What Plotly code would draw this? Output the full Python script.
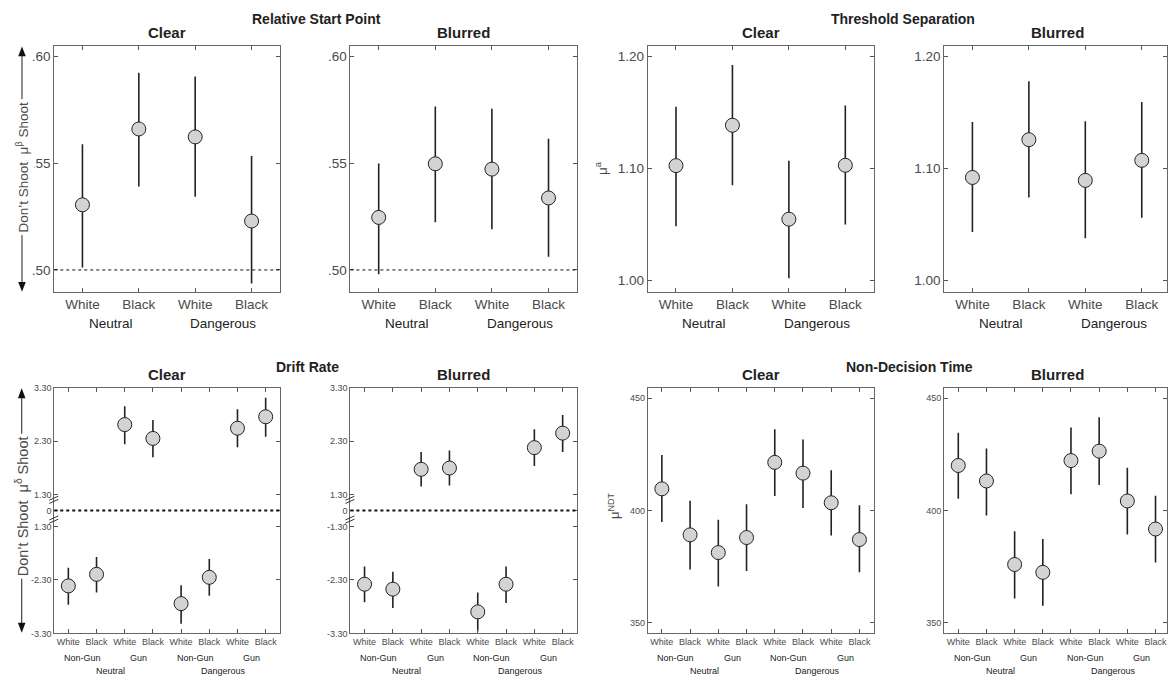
import plotly.graph_objects as go

W, H = 1168, 684
def px(x): return x / W
def py(y): return 1 - y / H

FONT = "Liberation Sans, Arial, sans-serif"
TICK_C = "#4a4a4a"
TXT_C = "#222222"

# ---------------- data ----------------
race4 = ["White", "Black", "White", "Black"]
context4 = ["Neutral", "Dangerous"]
race8 = ["White", "Black", "White", "Black", "White", "Black", "White", "Black"]
object8 = ["Non-Gun", "Gun", "Non-Gun", "Gun"]
context8 = ["Neutral", "Dangerous"]

start_clear_mean = [0.5305, 0.5660, 0.5623, 0.5229]
start_clear_low = [0.5011, 0.5391, 0.5343, 0.4937]
start_clear_high = [0.5588, 0.5923, 0.5906, 0.5534]
start_blur_mean = [0.5246, 0.5497, 0.5472, 0.5337]
start_blur_low = [0.4980, 0.5223, 0.5191, 0.5062]
start_blur_high = [0.5498, 0.5765, 0.5755, 0.5614]

thr_clear_mean = [1.1025, 1.1386, 1.0546, 1.1028]
thr_clear_low = [1.0482, 1.0849, 1.0018, 1.0499]
thr_clear_high = [1.1551, 1.1924, 1.1069, 1.1562]
thr_blur_mean = [1.0919, 1.1257, 1.0893, 1.1072]
thr_blur_low = [1.0432, 1.0740, 1.0376, 1.0558]
thr_blur_high = [1.1416, 1.1780, 1.1421, 1.1595]

drift_clear_mean = [-2.411, -2.195, 2.608, 2.349, -2.743, -2.251, 2.540, 2.755]
drift_clear_low = [-2.762, -2.534, 2.238, 1.998, -3.118, -2.595, 2.183, 2.380]
drift_clear_high = [-2.072, -1.869, 2.952, 2.694, -2.398, -1.906, 2.897, 3.112]
drift_blur_mean = [-2.380, -2.472, 1.771, 1.795, -2.897, -2.380, 2.177, 2.448]
drift_blur_low = [-2.718, -2.823, 1.451, 1.469, -3.260, -2.731, 1.832, 2.097]
drift_blur_high = [-2.048, -2.146, 2.097, 2.122, -2.534, -2.048, 2.522, 2.786]

ndt_clear_mean = [409.6, 389.1, 381.2, 387.9, 421.4, 416.6, 403.4, 387.0]
ndt_clear_low = [394.8, 373.7, 366.1, 373.0, 406.4, 401.1, 388.8, 372.4]
ndt_clear_high = [424.7, 404.3, 395.8, 402.7, 436.1, 431.6, 417.9, 402.3]
ndt_blur_mean = [420.0, 413.1, 375.9, 372.4, 422.2, 426.4, 404.2, 391.7]
ndt_blur_low = [405.2, 397.7, 360.7, 357.5, 407.2, 411.3, 389.2, 376.8]
ndt_blur_high = [434.6, 427.6, 390.7, 387.3, 436.9, 441.5, 419.0, 406.5]

start_ticks = [0.50, 0.55, 0.60]
start_ticklabels = [".50", ".55", ".60"]
thr_ticks = [1.00, 1.10, 1.20]
thr_ticklabels = ["1.00", "1.10", "1.20"]
drift_ticks = [-3.3, -2.3, -1.3, 0, 1.3, 2.3, 3.3]
drift_ticklabels = ["-3.30", "-2.30", "-1.30", "0", "1.30", "2.30", "3.30"]
ndt_ticks = [350, 400, 450]
ndt_ticklabels = ["350", "400", "450"]

# broken drift axis: values between -1.3 and 1.3 are compressed
def drift_disp(v):
    if v == 0:
        return 0.0
    s = 1 if v > 0 else -1
    return s * (abs(v) - 1.0)

# ---------------- layout geometry ----------------
top_y = (py(291), py(41.7))
bot_y = (py(637.7), py(388.3))
xdoms = [(px(54.3), px(280)), (px(350.7), px(577.3)), (px(648.3), px(874.3)), (px(945), 1.0)]

panels = [
    dict(m=start_clear_mean, lo=start_clear_low, hi=start_clear_high, col=0, row=0,
         yr=[0.4898, 0.6048], yt=start_ticks, ytl=start_ticklabels, title="Clear"),
    dict(m=start_blur_mean, lo=start_blur_low, hi=start_blur_high, col=1, row=0,
         yr=[0.4898, 0.6048], yt=start_ticks, ytl=start_ticklabels, title="Blurred"),
    dict(m=thr_clear_mean, lo=thr_clear_low, hi=thr_clear_high, col=2, row=0,
         yr=[0.9897, 1.2094], yt=thr_ticks, ytl=thr_ticklabels, title="Clear"),
    dict(m=thr_blur_mean, lo=thr_blur_low, hi=thr_blur_high, col=3, row=0,
         yr=[0.9897, 1.2094], yt=thr_ticks, ytl=thr_ticklabels, title="Blurred"),
    dict(m=drift_clear_mean, lo=drift_clear_low, hi=drift_clear_high, col=0, row=1,
         yr=[-2.3, 2.3], yt=drift_ticks, ytl=drift_ticklabels, title="Clear", drift=True),
    dict(m=drift_blur_mean, lo=drift_blur_low, hi=drift_blur_high, col=1, row=1,
         yr=[-2.3, 2.3], yt=drift_ticks, ytl=drift_ticklabels, title="Blurred", drift=True),
    dict(m=ndt_clear_mean, lo=ndt_clear_low, hi=ndt_clear_high, col=2, row=1,
         yr=[345.2, 454.7], yt=ndt_ticks, ytl=ndt_ticklabels, title="Clear"),
    dict(m=ndt_blur_mean, lo=ndt_blur_low, hi=ndt_blur_high, col=3, row=1,
         yr=[345.2, 454.7], yt=ndt_ticks, ytl=ndt_ticklabels, title="Blurred"),
]

fig = go.Figure()
layout = dict(width=W, height=H, margin=dict(l=0, r=0, t=0, b=0),
              paper_bgcolor="white", plot_bgcolor="white", showlegend=False,
              font=dict(family=FONT, color=TICK_C))
annotations = []
shapes = []

for i, p in enumerate(panels):
    n = i + 1
    sfx = "" if n == 1 else str(n)
    xa, ya = "x" + sfx, "y" + sfx
    drift = p.get("drift", False)
    ncat = len(p["m"])
    xs = list(range(1, ncat + 1))
    f = drift_disp if drift else (lambda v: v)
    m = [f(v) for v in p["m"]]
    lo = [f(v) for v in p["lo"]]
    hi = [f(v) for v in p["hi"]]
    fig.add_trace(go.Scatter(
        x=xs, y=m, xaxis=xa, yaxis=ya, mode="markers",
        marker=dict(size=14, color="#d3d3d3", line=dict(width=1, color="#222")),
        error_y=dict(type="data", symmetric=False,
                     array=[h - c for h, c in zip(hi, m)],
                     arrayminus=[c - l for c, l in zip(m, lo)],
                     width=0, thickness=1.6, color="#222"),
        hoverinfo="skip"))
    top = p["row"] == 0
    if top:
        xr = [0.5, 4.5] if p["col"] < 3 else [0.5, 0.5 + 223 / 56.5]
        tfs = 13.5
        xlabels = race4
    else:
        xr = [0.5, 8.5] if p["col"] < 3 else [0.5, 0.5 + 223 / 28.2]
        tfs = 9
        xlabels = race8
    yd = top_y if top else bot_y
    layout["xaxis" + sfx] = dict(
        domain=list(xdoms[p["col"]]), range=xr, anchor=ya,
        tickmode="array", tickvals=xs, ticktext=xlabels,
        ticks="inside", ticklen=4, tickwidth=1, tickcolor="#555",
        showline=True, linecolor="#666", linewidth=1, mirror="ticks",
        showgrid=False, zeroline=False, fixedrange=True,
        tickfont=dict(size=tfs, color=TICK_C, family=FONT))
    yvals = [f(v) for v in p["yt"]]
    layout["yaxis" + sfx] = dict(
        domain=list(yd), range=p["yr"], anchor=xa,
        tickmode="array", tickvals=yvals, ticktext=p["ytl"],
        ticks="inside", ticklen=4, tickwidth=1, tickcolor="#555",
        showline=True, linecolor="#666", linewidth=1, mirror="ticks",
        showgrid=False, zeroline=False, fixedrange=True,
        tickfont=dict(size=13.5 if top else 9, color=TICK_C, family=FONT))
    # panel title
    xc = xdoms[p["col"]][0] + px(226) / 2
    annotations.append(dict(text="<b>%s</b>" % p["title"], xref="paper", yref="paper",
                            x=xc, y=py(28 if top else 375), xanchor="center", yanchor="middle",
                            showarrow=False, font=dict(size=15, color=TXT_C, family=FONT)))
    # group labels
    if top:
        for k, g in enumerate(context4):
            annotations.append(dict(text=g, xref=xa, yref="paper", x=1.5 + 2 * k, y=py(323),
                                    xanchor="center", yanchor="middle", showarrow=False,
                                    font=dict(size=13.5, color=TXT_C, family=FONT)))
    else:
        for k, g in enumerate(object8):
            annotations.append(dict(text=g, xref=xa, yref="paper", x=1.5 + 2 * k, y=py(662.7),
                                    xanchor="center", yanchor="middle", showarrow=False,
                                    font=dict(size=9, color=TXT_C, family=FONT)))
        for k, g in enumerate(context8):
            annotations.append(dict(text=g, xref=xa, yref="paper", x=2.5 + 4 * k, y=py(675.5),
                                    xanchor="center", yanchor="middle", showarrow=False,
                                    font=dict(size=9, color=TXT_C, family=FONT)))
    # reference lines
    if i in (0, 1):
        shapes.append(dict(type="line", xref=xa + " domain", yref=ya, x0=0, x1=1, y0=0.5, y1=0.5,
                           line=dict(color="#111", width=1, dash="dot")))
    if drift:
        shapes.append(dict(type="line", xref=xa + " domain", yref=ya, x0=0, x1=1, y0=0, y1=0,
                           line=dict(color="#111", width=2, dash="dot")))
        for yb in (0.2, -0.17):
            for off in (-1.6, 1.6):
                shapes.append(dict(type="line", xref=xa + " domain", yref=ya,
                                   xsizemode="pixel", xanchor=0, x0=-5, x1=4,
                                   ysizemode="pixel", yanchor=yb, y0=off - 2, y1=off + 2,
                                   line=dict(color="#333", width=1)))

# super titles
for txt, xc, yc in [("Relative Start Point", 316.7, 14), ("Threshold Separation", 904, 14),
                    ("Drift Rate", 307.7, 367), ("Non-Decision Time", 910, 367)]:
    annotations.append(dict(text="<b>%s</b>" % txt, xref="paper", yref="paper", x=px(xc), y=py(yc),
                            xanchor="center", yanchor="middle", showarrow=False,
                            font=dict(size=14, color=TXT_C, family=FONT)))

# arrow-style y labels (line + filled arrow heads + text with white background)
def arrow_label(xp, ytop, ybot, ymid, text, fs):
    shapes.append(dict(type="line", xref="paper", yref="paper", x0=px(xp), x1=px(xp),
                       y0=py(ytop + 8), y1=py(ybot - 8), line=dict(color="#444", width=1.2)))
    hw, hh = 3.8, 10
    shapes.append(dict(type="path", xref="paper", yref="paper",
                       path="M %f,%f L %f,%f L %f,%f Z" % (px(xp), py(ytop), px(xp - hw), py(ytop + hh),
                                                          px(xp + hw), py(ytop + hh)),
                       fillcolor="#111", line=dict(width=0)))
    shapes.append(dict(type="path", xref="paper", yref="paper",
                       path="M %f,%f L %f,%f L %f,%f Z" % (px(xp), py(ybot), px(xp - hw), py(ybot - hh),
                                                          px(xp + hw), py(ybot - hh)),
                       fillcolor="#111", line=dict(width=0)))
    annotations.append(dict(text=text, xref="paper", yref="paper", x=px(xp), y=py(ymid),
                            xanchor="center", yanchor="middle", textangle=-90, showarrow=False,
                            bgcolor="white", borderpad=2,
                            font=dict(size=fs, color=TICK_C, family=FONT)))

arrow_label(22, 42, 291, 164, "Don’t Shoot  μ<sup>β</sup> Shoot", 13.5)
arrow_label(21.7, 389, 637, 509, "Don’t Shoot  μ<sup>δ</sup> Shoot", 14.5)

annotations.append(dict(text="μ<sup>a</sup>", xref="paper", yref="paper", x=px(601), y=py(165),
                        xanchor="center", yanchor="middle", textangle=-90, showarrow=False,
                        font=dict(size=13.5, color=TICK_C, family=FONT)))
annotations.append(dict(text="μ<sup>NDT</sup>", xref="paper", yref="paper", x=px(614), y=py(508),
                        xanchor="center", yanchor="middle", textangle=-90, showarrow=False,
                        font=dict(size=13, color=TICK_C, family=FONT)))

layout["annotations"] = annotations
layout["shapes"] = shapes
fig.update_layout(**layout)
fig.write_html("out.html", config={"displayModeBar": False},
               post_script="document.body.style.margin='0';document.body.style.overflow='hidden';")
